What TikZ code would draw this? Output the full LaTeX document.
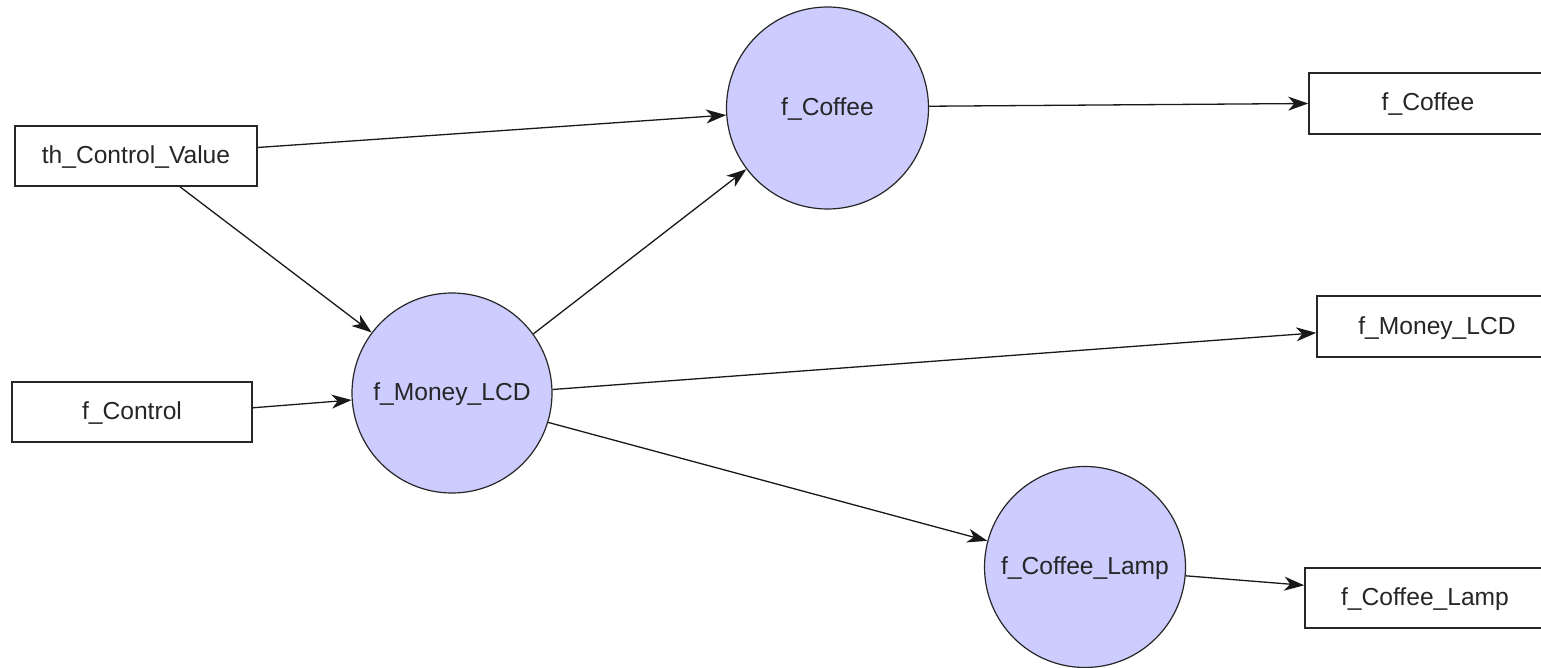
\documentclass[tikz,border=0pt]{standalone}
\usepackage{fontspec}
\setmainfont{Liberation Sans}
\usetikzlibrary{arrows.meta}
\definecolor{bubble}{RGB}{204,204,255}
\tikzset{
  every node/.style={font=\fontsize{12.3}{14}\selectfont, text=black!85},
  iobox/.style={draw=black!85, line width=0.8pt, fill=white, rectangle, minimum height=30pt, minimum width=120pt, inner sep=0pt, text height=9.5pt, text depth=2pt},
  proc/.style={draw=black!85, line width=0.6pt, fill=bubble, circle, minimum size=100pt, inner sep=0pt, text height=9.5pt, text depth=2pt},
  flow/.style={draw=black!90, line width=0.65pt, -{Stealth[length=10pt,width=7pt,inset=3pt]}}
}
\begin{document}
\begin{tikzpicture}[x=0.5pt,y=-0.5pt]
\useasboundingbox (0,0) rectangle (1541,668);
\clip (0,0) rectangle (1541,668);
\fill[white] (0,0) rectangle (1541,668);
\node[iobox, minimum width=121pt] (th) at (136,156) {th\_Control\_Value};
\node[iobox] (fctl) at (132,412) {f\_Control};
\node[proc] (fm) at (452,393) {f\_Money\_LCD};
\node[proc, minimum size=101pt] (fc) at (827.5,108) {f\_Coffee};
\node[proc, minimum size=100.5pt] (fcl) at (1085,567) {f\_Coffee\_Lamp};
\node[iobox, minimum width=119pt, minimum height=30.5pt] (fcbox) at (1428,103.5) {f\_Coffee};
\node[iobox, minimum height=30.5pt] (fmbox) at (1437,326.5) {f\_Money\_LCD};
\node[iobox] (fclbox) at (1425,598) {f\_Coffee\_Lamp};
\draw[flow] (th.4.25) -- (fc.184.5);
\draw[flow] (th.-35.5) -- (fm.143.1);
\draw[flow] (fctl.2.86) -- (fm.184.4);
\draw[flow] (fm.36.5) -- (fc.217.3);
\draw[flow] (fc.1) -- (fcbox.west);
\draw[flow] (fm.2.3) -- (fmbox.183.6);
\draw[flow] (fm.-17.2) -- (fcl.165.5);
\draw[flow] (fcl.-5.7) -- (fclbox.174.9);
\end{tikzpicture}
\end{document}
